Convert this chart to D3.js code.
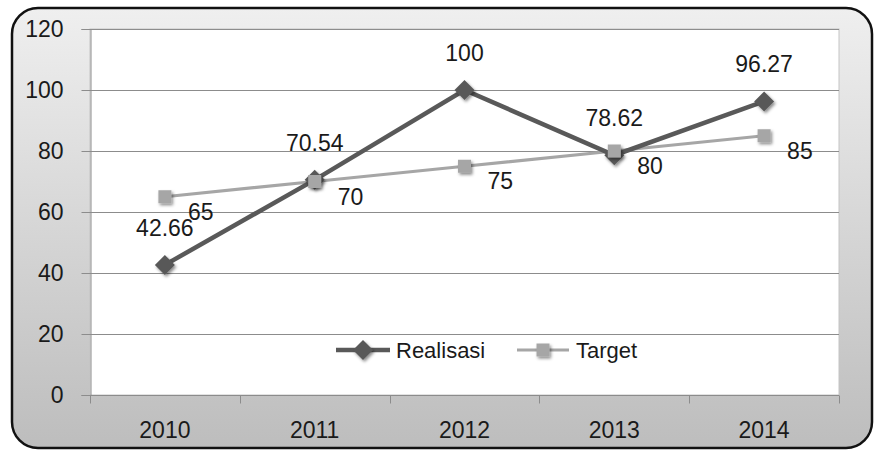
<!DOCTYPE html>
<html>
<head>
<meta charset="utf-8">
<script src="https://cdn.jsdelivr.net/npm/d3@7"></script>
<style>
  html, body { margin: 0; padding: 0; background: #ffffff; }
  svg { display: block; }
  text { font-family: "Liberation Sans", Arial, sans-serif; fill: #1a1a1a; }
</style>
</head>
<body>
<svg id="chart" width="876" height="452"></svg>
<script>
const years = ["2010", "2011", "2012", "2013", "2014"];
const realisasi = [42.66, 70.54, 100, 78.62, 96.27];
const target = [65, 70, 75, 80, 85];
const yTicks = [0, 20, 40, 60, 80, 100, 120];
const seriesNames = ["Realisasi", "Target"];

const svg = d3.select("#chart");
const plot = { left: 90, right: 839, top: 29, bottom: 395 };
const FS = 23, FL = 22;

const defs = svg.append("defs");
const grad = defs.append("linearGradient").attr("id", "bg").attr("x1", 0).attr("y1", 0).attr("x2", 0).attr("y2", 1);
grad.append("stop").attr("offset", "0%").attr("stop-color", "#efefef");
grad.append("stop").attr("offset", "100%").attr("stop-color", "#bdbdbd");
const f = defs.append("filter").attr("id", "shadow").attr("x", "-50%").attr("y", "-50%").attr("width", "200%").attr("height", "200%");
f.append("feDropShadow").attr("dx", 1.5).attr("dy", 2).attr("stdDeviation", 1.6).attr("flood-color", "#000").attr("flood-opacity", 0.45);

// outer frame
svg.append("rect").attr("x", 12).attr("y", 8).attr("width", 860).attr("height", 440)
  .attr("rx", 26).attr("ry", 26).attr("fill", "url(#bg)").attr("stroke", "#111").attr("stroke-width", 2.5);

const x = d3.scaleBand().domain(years).range([plot.left, plot.right]);
const y = d3.scaleLinear().domain([0, 120]).range([plot.bottom, plot.top]);

// plot area
svg.append("rect").attr("x", plot.left).attr("y", plot.top)
  .attr("width", plot.right - plot.left).attr("height", plot.bottom - plot.top)
  .attr("fill", "#ffffff").attr("stroke", "#c4c4c4").attr("stroke-width", 1);

// gridlines
svg.append("g").selectAll("line").data(yTicks.filter(d => d > 0)).join("line")
  .attr("x1", plot.left).attr("x2", plot.right)
  .attr("y1", d => y(d) + 0.5).attr("y2", d => y(d) + 0.5)
  .attr("stroke", "#8c8c8c").attr("stroke-width", 1);

// y axis
const yAxis = svg.append("g").attr("transform", `translate(${plot.left + 0.5},0)`)
  .call(d3.axisLeft(y).tickValues(yTicks).tickSize(9).tickPadding(18).tickFormat(d3.format("d")));
yAxis.select(".domain").attr("stroke", "#8c8c8c");
yAxis.selectAll(".tick line").attr("stroke", "#8c8c8c");
yAxis.selectAll("text").attr("font-size", FS).style("font-family", '"Liberation Sans", Arial, sans-serif').attr("fill", "#1a1a1a");

// x axis
const xg = svg.append("g").attr("transform", `translate(0,${plot.bottom + 0.5})`);
xg.append("line").attr("x1", plot.left).attr("x2", plot.right).attr("stroke", "#8c8c8c");
const boundaries = years.map(d => x(d)).concat([x(years[years.length - 1]) + x.bandwidth()]);
xg.selectAll("line.tk").data(boundaries).join("line").attr("class", "tk")
  .attr("x1", d => Math.round(d) + 0.5).attr("x2", d => Math.round(d) + 0.5)
  .attr("y1", 0).attr("y2", 8).attr("stroke", "#8c8c8c");
xg.selectAll("text").data(years).join("text")
  .attr("x", d => x(d) + x.bandwidth() / 2).attr("y", 42.5)
  .attr("text-anchor", "middle").attr("font-size", FS).text(d => d);

const cx = d => x(d) + x.bandwidth() / 2;
const line = d3.line().x(d => cx(d.year)).y(d => y(d.v));
const tData = years.map((yr, i) => ({ year: yr, v: target[i] }));
const rData = years.map((yr, i) => ({ year: yr, v: realisasi[i] }));

const cT = "#a6a6a6", cR = "#595959";

svg.append("path").datum(tData).attr("d", line).attr("fill", "none").attr("stroke", cT).attr("stroke-width", 3.2);
svg.append("path").datum(rData).attr("d", line).attr("fill", "none").attr("stroke", cR).attr("stroke-width", 4.5);

const diamond = (s) => `M0,${-s}L${s},0L0,${s}L${-s},0Z`;
const square = (s) => `M${-s},${-s}H${s}V${s}H${-s}Z`;

svg.append("g").selectAll("path").data(rData).join("path")
  .attr("d", diamond(10)).attr("transform", d => `translate(${cx(d.year)},${y(d.v)})`)
  .attr("fill", cR).attr("filter", "url(#shadow)");
svg.append("g").selectAll("path").data(tData).join("path")
  .attr("d", square(6.5)).attr("transform", d => `translate(${cx(d.year)},${y(d.v)})`)
  .attr("fill", cT).attr("filter", "url(#shadow)");

// data labels
svg.append("g").selectAll("text").data(rData).join("text")
  .attr("x", d => cx(d.year)).attr("y", d => y(d.v) - 29)
  .attr("text-anchor", "middle").attr("font-size", FS).text(d => d.v);
svg.append("g").selectAll("text").data(tData).join("text")
  .attr("x", d => cx(d.year) + 23).attr("y", d => y(d.v) + 23)
  .attr("text-anchor", "start").attr("font-size", FS).text(d => d.v);

// legend
const lg = svg.append("g");
const ly = 350;
lg.append("line").attr("x1", 336).attr("x2", 390).attr("y1", ly).attr("y2", ly).attr("stroke", cR).attr("stroke-width", 4.5);
lg.append("path").attr("d", diamond(10)).attr("transform", `translate(363,${ly})`).attr("fill", cR).attr("filter", "url(#shadow)");
lg.append("text").attr("x", 396).attr("y", ly + 8).attr("font-size", FL).text(seriesNames[0]);
lg.append("line").attr("x1", 517).attr("x2", 569).attr("y1", ly).attr("y2", ly).attr("stroke", cT).attr("stroke-width", 3.2);
lg.append("path").attr("d", square(6.5)).attr("transform", `translate(543,${ly})`).attr("fill", cT).attr("filter", "url(#shadow)");
lg.append("text").attr("x", 576).attr("y", ly + 8).attr("font-size", FL).text(seriesNames[1]);
</script>
</body>
</html>
